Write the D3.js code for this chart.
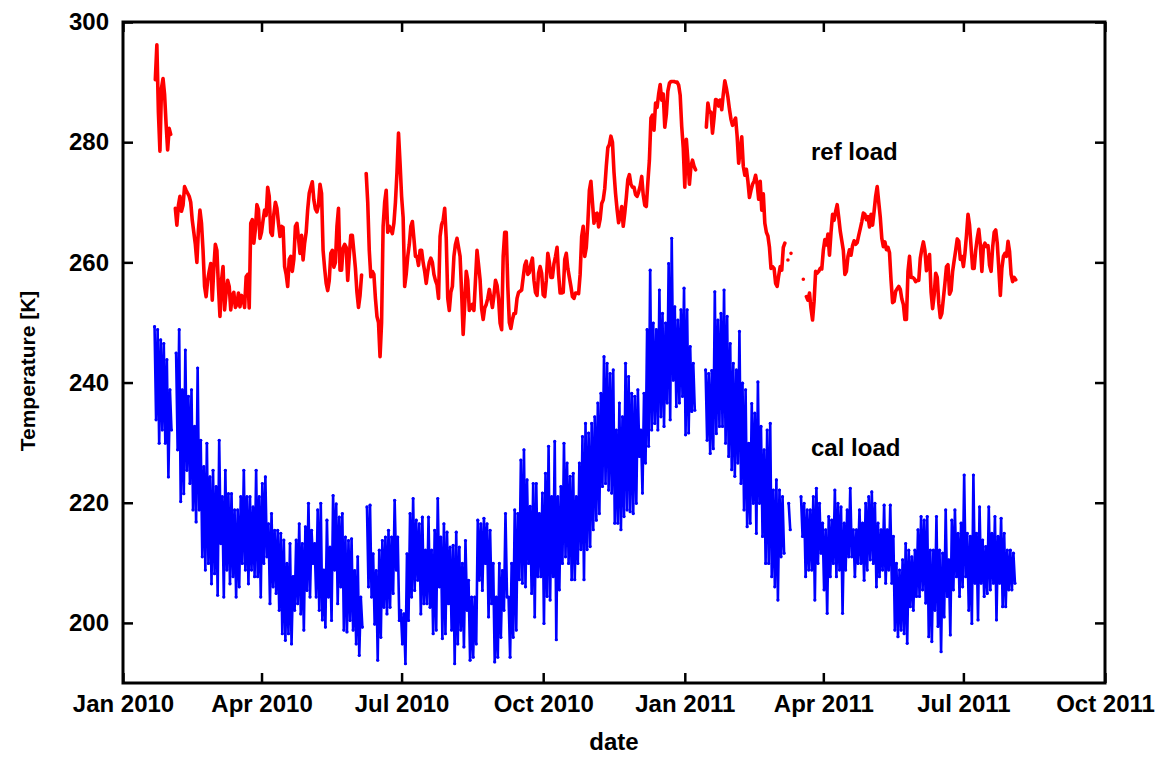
<!DOCTYPE html>
<html>
<head>
<meta charset="utf-8">
<script src="https://cdn.jsdelivr.net/npm/d3@7"></script>
<style>
  body { margin: 0; background: #fff; }
  svg { display: block; }
  text { font-family: "Liberation Sans", Arial, Helvetica, sans-serif; font-weight: bold; fill: #000; }
</style>
</head>
<body>
<svg id="chart" width="1161" height="757"></svg>
<script>
// Axis ticks
const xTickDates = ["2010-01-01", "2010-04-01", "2010-07-01", "2010-10-01",
                    "2011-01-01", "2011-04-01", "2011-07-01", "2011-10-01"];
const yTickValues = [200, 220, 240, 260, 280, 300];
const xDomain = ["2010-01-01", "2011-10-01"];
const yDomain = [190, 300];

// Reference load temperature [K], one value per day starting at refStart (null = no data)
const refStart = "2010-01-22";
const refLoad = [
  290.4, 296.2, 285.0, 278.5, 289.0, 290.6, 288.0, 283.0, 278.7, 282.3,
  281.3, null, null, 269.0, 266.2, 269.5, 271.0, 268.5, 269.5, 272.6,
  272.0, 271.5, 271.0, 270.0, 267.0, 265.0, 263.0, 260.0, 265.4, 268.7,
  266.5, 262.0, 256.0, 254.3, 257.0, 258.5, 259.8, 253.7, 259.0, 263.0,
  262.0, 256.0, 251.0, 257.0, 259.3, 252.1, 255.0, 257.0, 256.0, 252.1,
  254.5, 255.0, 252.5, 253.0, 254.9, 252.6, 254.5, 254.0, 252.5, 257.6,
  258.0, 252.4, 266.5, 267.1, 263.2, 265.5, 269.6, 268.8, 264.0, 265.0,
  267.0, 268.7, 267.8, 272.5, 271.0, 265.0, 264.5, 268.0, 270.0, 269.0,
  266.5, 264.3, 266.0, 265.8, 259.3, 258.0, 256.0, 260.5, 261.0, 258.5,
  260.5, 266.0, 266.5, 264.0, 261.5, 264.5, 260.4, 263.2, 265.0, 268.8,
  271.5, 272.5, 273.4, 270.4, 268.9, 268.4, 269.5, 273.0, 271.5, 262.0,
  259.0, 256.5, 255.3, 257.0, 261.5, 262.0, 259.2, 260.0, 266.0, 269.0,
  258.7, 258.7, 262.4, 263.0, 262.5, 257.0, 261.0, 264.5, 264.5, 261.8,
  259.0, 255.0, 252.5, 254.5, 257.9, null, null, 274.8, 270.0, 262.0,
  257.6, 258.5, 258.0, 254.0, 251.0, 250.0, 244.3, 250.0, 266.0, 270.0,
  272.0, 265.0, 266.0, 265.5, 264.8, 266.5, 270.0, 275.0, 281.5, 276.5,
  271.0, 267.5, 256.0, 258.0, 261.0, 263.0, 266.0, 266.8, 264.0, 261.0,
  261.0, 259.5, 262.0, 262.0, 260.0, 258.5, 256.5, 258.5, 260.0, 260.7,
  260.0, 258.0, 257.0, 256.3, 254.0, 264.3, 266.3, 267.0, 269.0, 264.0,
  254.0, 252.0, 255.0, 256.0, 261.0, 263.0, 264.0, 262.5, 261.0, 255.0,
  248.0, 253.0, 258.5, 257.0, 252.0, 252.5, 253.0, 252.0, 257.0, 262.0,
  259.6, 257.1, 252.3, 250.5, 252.4, 253.0, 254.0, 255.5, 254.0, 252.5,
  254.5, 257.0, 256.2, 254.0, 249.9, 248.8, 261.0, 265.0, 265.0, 256.0,
  250.0, 249.0, 250.5, 251.5, 251.5, 254.0, 255.0, 255.2, 255.4, 257.5,
  259.5, 260.2, 258.0, 258.3, 259.7, 260.7, 257.0, 255.0, 254.5, 258.2,
  259.3, 258.2, 254.6, 254.3, 257.0, 261.5, 260.0, 257.5, 257.5, 259.8,
  261.0, 262.5, 258.0, 254.9, 254.9, 255.0, 260.5, 261.5, 259.0, 257.5,
  256.0, 254.3, 254.0, 254.9, 254.9, 254.8, 258.0, 264.3, 266.0, 261.0,
  262.5, 266.5, 272.0, 273.5, 270.0, 266.5, 268.0, 268.2, 265.9, 267.2,
  269.8, 270.4, 272.3, 276.0, 279.1, 279.6, 281.0, 280.0, 275.0, 271.5,
  268.8, 266.6, 267.7, 269.3, 266.0, 268.2, 270.8, 273.8, 274.6, 273.0,
  272.5, 272.5, 271.3, 271.0, 271.7, 272.7, 274.3, 271.2, 269.5, 269.3,
  273.3, 277.0, 284.0, 284.5, 282.0, 286.5, 285.8, 288.0, 289.6, 287.0,
  288.0, 282.5, 284.6, 288.5, 289.8, 290.1, 290.1, 290.1, 290.0, 290.0,
  289.5, 287.8, 282.6, 279.0, 272.5, 280.5, 277.0, 273.0, 276.0, 277.0,
  276.0, 275.4, null, null, null, null, null, null, 282.5, 286.5,
  285.0, 285.0, 281.5, 284.0, 287.1, 287.0, 286.0, 287.0, 285.4, 288.0,
  290.2, 289.0, 287.5, 285.5, 283.8, 282.8, 283.5, 284.0, 281.0, 276.5,
  278.5, 280.9, 276.0, 274.5, 275.5, 273.5, 270.8, 272.0, 273.0, 273.5,
  274.5, 273.0, 270.5, 273.5, 268.7, 271.4, 266.5, 265.0, 264.4, 262.5,
  259.0, 259.3, 259.0, 256.5, 256.0, 257.8, 259.3, 258.7, 262.5, 263.2,
  null, 260.4, null, 261.5, null, null, null, null, null, null,
  null, 257.2, null, 254.3, 253.7, 254.9, 252.3, 250.4, 253.5, 258.5,
  258.2, 258.5, 259.0, 258.9, 262.0, 263.8, 262.9, 264.7, 261.2, 265.0,
  268.0, 267.0, 268.5, 269.6, 267.5, 265.2, 263.6, 262.0, 258.0, 258.5,
  261.0, 262.1, 261.2, 262.8, 263.6, 263.0, 263.3, 264.5, 265.6, 266.8,
  268.2, 268.0, 267.1, 267.6, 265.9, 268.0, 266.2, 268.5, 271.0, 272.6,
  270.0, 267.5, 264.0, 262.6, 263.4, 262.1, 262.5, 261.6, 257.0, 253.3,
  253.5, 255.2, 255.6, 256.0, 255.5, 253.9, 253.0, 250.5, 250.5, 258.5,
  261.0, 257.5, 257.5, 257.3, 256.8, 257.0, 257.0, 260.7, 262.2, 263.4,
  262.0, 258.6, 260.5, 261.3, 255.0, 252.3, 254.5, 258.2, 257.5, 253.2,
  250.8, 251.5, 254.0, 256.5, 259.3, 259.6, 254.7, 255.3, 258.5, 260.3,
  262.0, 263.9, 263.5, 260.5, 261.0, 259.3, 261.5, 264.5, 268.0, 266.2,
  262.6, 259.0, 259.0, 262.0, 264.0, 265.5, 263.0, 258.5, 262.6, 263.2,
  262.6, 262.8, 259.5, 258.5, 262.5, 265.0, 265.4, 263.2, 259.0, 254.5,
  259.0, 261.0, 261.5, 261.0, 263.5, 261.8, 258.0, 256.8, 257.5, 257.1
];

// Calibration load temperature [K]: daily-cycle maximum and minimum over two-day bins
const calStart = "2010-01-22";
const calStepDays = 2;
const calHigh = [
  249.3, 248.8, 247.1, 246.5, 243.8, 238.8, null, 244.9, 248.8, 238.8,
  245.4, 237.7, 238.8, 232.7, 242.4, 230.4, 226.0, 229.9, 224.3, 225.4,
  222.7, 230.4, 221.0, 225.4, 221.5, 221.5, 218.8, 218.8, 221.0, 225.4,
  221.0, 221.0, 219.3, 225.4, 221.0, 223.2, 224.3, 216.5, 218.2, 215.4,
  215.4, 214.9, 213.8, 209.9, 213.2, 207.7, 213.8, 216.5, 213.2, 216.0,
  219.9, 215.4, 213.2, 218.8, 219.9, 208.8, 217.1, 212.6, 221.2, 219.8,
  217.6, 218.2, 214.3, 213.7, 214.0, 208.7, 211.0, 204.3, null, 219.3,
  219.6, 211.5, 208.7, 212.1, 213.7, 214.3, 215.4, 214.3, 220.4, 214.3,
  202.1, 201.5, 211.5, 218.2, 220.7, 217.1, 216.5, 217.6, 212.1, 217.6,
  212.1, 215.4, 220.7, 214.3, 216.5, 215.1, 212.6, 212.9, 215.1, 212.6,
  209.9, 213.7, 207.1, 204.3, 204.3, 217.1, 216.5, 217.4, 216.5, 215.4,
  209.9, 204.3, 209.9, 208.7, 218.2, 204.3, 209.9, 218.8, 218.2, 227.1,
  228.8, 223.8, 219.4, 223.2, 223.2, 218.2, 221.6, 224.9, 229.4, 221.0,
  230.2, 221.0, 222.7, 229.9, 226.6, 224.4, 224.9, 221.0, 226.6, 231.0,
  233.2, 231.6, 233.2, 234.3, 236.6, 238.2, 244.3, 243.2, 241.5, 242.1,
  232.1, 236.6, 234.3, 243.2, 241.0, 238.2, 237.7, 238.8, 232.1, 238.2,
  248.8, 258.7, 249.9, 248.8, 255.4, 251.5, 249.9, 259.8, 264.0, 252.6,
  250.4, 252.1, 255.7, 252.1, 246.0, 243.2, null, null, null, 242.1,
  241.5, 242.0, 255.1, 250.4, 251.5, 255.4, 251.0, 246.5, 243.2, 242.1,
  248.5, 239.9, 238.8, 229.9, 236.5, 234.9, 240.1, 232.7, 228.8, 232.1,
  233.2, 222.1, 223.8, 222.1, 221.0, null, 219.9, null, null, null,
  221.0, 219.9, 218.8, 218.8, 221.0, 222.4, 219.9, 216.6, 215.5, 217.7,
  217.1, 222.1, 219.9, 219.3, 216.6, 218.8, 222.4, 215.5, 215.5, 218.8,
  216.6, 219.9, 221.0, 221.8, 219.9, 216.6, 215.5, 219.6, 215.5, 219.6,
  214.4, 209.9, 208.8, 210.5, 213.2, 212.1, 211.0, 212.1, 215.5, 217.7,
  217.1, 217.7, 212.1, 212.1, 217.7, 212.1, 211.6, 218.8, 210.5, 217.1,
  218.8, 214.9, 216.6, 224.6, 214.9, 214.4, 224.6, 214.9, 219.3, 213.8,
  212.7, 219.3, 214.9, 217.7, 214.4, 217.4, 214.9, 212.1, 212.1, 211.6
];
const calLow = [
  233.8, 229.9, 232.1, 229.9, 224.3, 232.1, null, 228.8, 220.2, 221.5,
  225.4, 223.2, 218.8, 216.8, 218.8, 211.0, 208.8, 209.9, 206.5, 208.2,
  204.6, 213.2, 204.3, 208.8, 206.5, 207.7, 204.3, 206.0, 209.9, 208.8,
  206.5, 208.8, 207.7, 207.7, 204.3, 209.9, 211.0, 203.2, 206.0, 204.9,
  202.1, 198.2, 197.1, 198.2, 196.5, 202.1, 203.2, 201.5, 198.8, 205.4,
  204.3, 209.9, 204.3, 202.1, 200.5, 199.3, 204.3, 200.4, 208.8, 203.2,
  206.0, 198.8, 198.5, 200.4, 198.8, 196.5, 194.6, 199.3, null, 206.0,
  204.3, 199.8, 193.8, 197.6, 202.6, 201.5, 202.6, 204.9, 208.8, 200.4,
  196.5, 193.2, 200.4, 204.3, 205.4, 207.1, 201.5, 203.2, 203.2, 202.6,
  198.2, 198.8, 206.0, 197.4, 198.2, 203.2, 198.8, 193.2, 196.5, 198.8,
  196.0, 202.1, 193.8, 194.3, 196.5, 207.1, 205.4, 209.9, 201.0, 203.2,
  193.5, 194.3, 197.6, 202.1, 204.3, 194.3, 197.6, 198.8, 207.2, 206.6,
  206.0, 209.9, 204.9, 201.0, 207.7, 207.7, 199.9, 204.4, 203.8, 207.7,
  197.2, 205.5, 209.9, 211.0, 209.9, 207.2, 207.2, 209.9, 212.2, 207.2,
  212.2, 212.7, 215.5, 217.1, 218.2, 222.7, 223.2, 222.1, 221.6, 216.6,
  216.6, 215.5, 217.7, 218.8, 218.5, 218.2, 219.9, 227.7, 221.6, 226.6,
  229.4, 232.1, 233.2, 232.1, 234.3, 232.7, 236.6, 233.8, 240.4, 236.0,
  236.6, 237.7, 231.3, 231.6, 235.2, 235.4, null, null, null, 230.4,
  228.2, 229.0, 231.5, 232.7, 232.7, 229.9, 227.7, 225.5, 224.4, 226.6,
  223.2, 218.8, 216.0, 216.6, 219.9, 214.9, 219.9, 214.4, 209.9, 209.9,
  207.7, 206.0, 203.8, 211.0, 211.6, null, 215.5, null, null, null,
  214.4, 207.7, 208.8, 208.8, 203.8, 209.9, 211.6, 205.5, 201.6, 207.7,
  209.9, 207.7, 208.8, 201.6, 208.8, 211.0, 211.0, 207.7, 209.9, 209.9,
  207.1, 208.8, 210.5, 209.9, 206.0, 207.7, 208.8, 206.6, 208.8, 206.6,
  198.8, 197.7, 198.8, 198.2, 196.6, 202.7, 202.1, 204.4, 204.4, 205.5,
  203.3, 197.7, 196.9, 202.1, 199.4, 195.2, 201.0, 204.4, 198.0, 205.5,
  207.7, 204.4, 206.0, 207.7, 202.1, 199.9, 206.6, 200.5, 206.6, 204.4,
  204.9, 205.5, 206.6, 200.5, 206.6, 202.7, 202.7, 205.5, 205.5, 206.6
];

const seriesLabels = [
  { text: "ref load", date: "2011-03-24", value: 277.0 },
  { text: "cal load", date: "2011-03-24", value: 227.7 }
];

// ---- layout ----
const W = 1161, H = 757;
const margin = { top: 22, right: 56, bottom: 74, left: 123 };
const iw = W - margin.left - margin.right;
const ih = H - margin.top - margin.bottom;

const parse = d3.utcParse("%Y-%m-%d");
const x = d3.scaleUtc().domain(xDomain.map(parse)).range([0, iw]);
const y = d3.scaleLinear().domain(yDomain).range([ih, 0]);

const svg = d3.select("#chart");
svg.append("rect").attr("width", W).attr("height", H).attr("fill", "#fff");
const g = svg.append("g").attr("transform", `translate(${margin.left},${margin.top})`);

g.append("clipPath").attr("id", "plot-clip")
  .append("rect").attr("width", iw).attr("height", ih);

const plot = g.append("g").attr("clip-path", "url(#plot-clip)");

// ---- cal load: zigzag between each bin's max and min, with dots at the samples ----
const cal0 = parse(calStart);
const calPts = [];
calHigh.forEach((hi, i) => {
  const t = d3.utcDay.offset(cal0, i * calStepDays);
  calPts.push({ t: d3.utcHour.offset(t, -12), v: hi });
  calPts.push({ t: d3.utcHour.offset(t, 12), v: calLow[i] });
});
const calLine = d3.line()
  .defined(p => p.v != null)
  .x(p => x(p.t)).y(p => y(p.v));
plot.append("path")
  .attr("d", calLine(calPts))
  .attr("fill", "none")
  .attr("stroke", "#0000ff")
  .attr("stroke-width", 2.6)
  .attr("stroke-linecap", "round")
  .attr("stroke-linejoin", "round");
plot.append("g").selectAll("circle")
  .data(calPts.filter(p => p.v != null))
  .join("circle")
  .attr("cx", p => x(p.t)).attr("cy", p => y(p.v))
  .attr("r", 1.6).attr("fill", "#0000ff");

// ---- ref load: daily line ----
const ref0 = parse(refStart);
const refPts = refLoad.map((v, i) => ({ t: d3.utcDay.offset(ref0, i), v }));
const refLine = d3.line()
  .defined(p => p.v != null)
  .x(p => x(p.t)).y(p => y(p.v));
plot.append("path")
  .attr("d", refLine(refPts))
  .attr("fill", "none")
  .attr("stroke", "#ff0000")
  .attr("stroke-width", 3.6)
  .attr("stroke-linecap", "round")
  .attr("stroke-linejoin", "round");

// ---- axes (ticks point inward on all four sides) ----
const xTicks = xTickDates.map(parse);
const fmt = d3.utcFormat("%b %Y");
const tickLen = 10;

const axB = g.append("g").attr("transform", `translate(0,${ih})`)
  .call(d3.axisBottom(x).tickValues(xTicks).tickFormat(fmt).tickSize(-tickLen).tickPadding(12));
const axT = g.append("g")
  .call(d3.axisTop(x).tickValues(xTicks).tickFormat("").tickSize(-tickLen));
const axL = g.append("g")
  .call(d3.axisLeft(y).tickValues(yTickValues).tickFormat(d3.format("d")).tickSize(-tickLen).tickPadding(14));
const axR = g.append("g").attr("transform", `translate(${iw},0)`)
  .call(d3.axisRight(y).tickValues(yTickValues).tickFormat("").tickSize(-tickLen));

[axB, axT, axL, axR].forEach(a => {
  a.select(".domain").remove();
  a.selectAll(".tick line").attr("stroke", "#000").attr("stroke-width", 2.5);
  a.selectAll("text").attr("font-size", 24).attr("fill", "#000")
    .attr("font-family", '"Liberation Sans", Arial, sans-serif').attr("font-weight", "bold");
});

// frame
g.append("rect").attr("width", iw).attr("height", ih)
  .attr("fill", "none").attr("stroke", "#000").attr("stroke-width", 3);

// axis titles
g.append("text")
  .attr("x", iw / 2).attr("y", ih + 67)
  .attr("text-anchor", "middle").attr("font-size", 24)
  .text("date");
g.append("text")
  .attr("transform", `translate(${-123 + 35},${349}) rotate(-90)`)
  .attr("text-anchor", "middle").attr("font-size", 21)
  .text("Temperature [K]");

// series labels
g.selectAll(".series-label").data(seriesLabels).join("text")
  .attr("class", "series-label")
  .attr("x", d => x(parse(d.date))).attr("y", d => y(d.value))
  .attr("font-size", 24)
  .text(d => d.text);
</script>
</body>
</html>
